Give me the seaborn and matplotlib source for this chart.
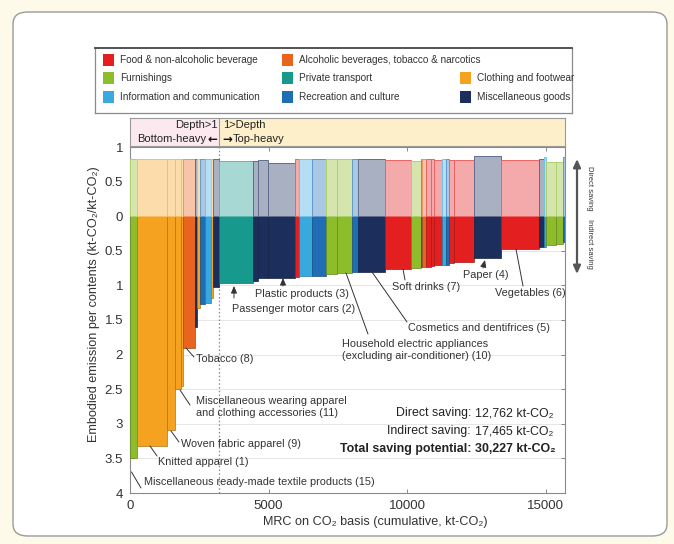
import matplotlib
matplotlib.use("Agg")
import matplotlib.pyplot as plt
from matplotlib.patches import FancyBboxPatch, Rectangle
import matplotlib.colors as mcolors
import numpy as np
import pandas as pd
import seaborn as sns

# ---------------- data ----------------
cat_keys = ["food", "alcohol", "furnish", "transport", "clothing", "info", "recreation", "misc"]
cat_labels = ["Food & non-alcoholic beverage", "Alcoholic beverages, tobacco & narcotics",
              "Furnishings", "Private transport", "Clothing and footwear",
              "Information and communication", "Recreation and culture", "Miscellaneous goods"]
cat_colors = ["#e3201f", "#e9641f", "#8dbd2a", "#17998e", "#f4a21f", "#38a9df", "#1f6db4", "#1c2f5c"]

bar_category = ["furnish", "clothing", "clothing", "clothing", "clothing", "alcohol", "misc", "clothing",
                "recreation", "info", "clothing", "misc", "transport", "misc", "misc", "misc", "food",
                "info", "recreation", "furnish", "furnish", "recreation", "misc", "food", "furnish",
                "recreation", "alcohol", "food", "food", "food", "info", "recreation", "food", "food",
                "misc", "food", "misc", "info", "furnish", "furnish", "recreation"]
bar_mrc = [240, 1110, 267, 238, 72, 412, 94, 97, 180, 217, 61, 227, 1238, 152, 379, 964, 155, 469,
           495, 397, 563, 206, 964, 939, 361, 58, 123, 180, 119, 300, 123, 119, 180, 722, 964, 1383,
           162, 72, 368, 264, 54]
bar_direct = [0.83, 0.83, 0.83, 0.83, 0.83, 0.83, 0.82, 0.82, 0.82, 0.83, 0.82, 0.82, 0.80, 0.80,
              0.81, 0.77, 0.83, 0.82, 0.82, 0.82, 0.82, 0.82, 0.82, 0.81, 0.80, 0.83, 0.82, 0.82,
              0.82, 0.81, 0.83, 0.82, 0.81, 0.81, 0.87, 0.81, 0.82, 0.85, 0.78, 0.78, 0.86]
bar_indirect = [3.50, 3.32, 3.09, 2.50, 2.45, 1.91, 1.60, 1.32, 1.27, 1.25, 1.18, 1.03, 0.97, 0.93,
                0.90, 0.89, 0.88, 0.87, 0.86, 0.83, 0.82, 0.81, 0.80, 0.77, 0.75, 0.74, 0.74, 0.73,
                0.72, 0.71, 0.70, 0.70, 0.68, 0.66, 0.61, 0.47, 0.45, 0.44, 0.42, 0.40, 0.38]

y_ticks = [1, 0.5, 0, -0.5, -1, -1.5, -2, -2.5, -3, -3.5, -4]
y_ticklabels = ["1", "0.5", "0", "0.5", "1", "1.5", "2", "2.5", "3", "3.5", "4"]
x_ticks = [0, 5000, 10000, 15000]
x_ticklabels = ["0", "5000", "10000", "15000"]

direct_total = "12,762"
indirect_total = "17,465"
grand_total = "30,227"

# ---------------- style ----------------
sns.set_theme(style="ticks")
FONT = ["Liberation Sans", "DejaVu Sans"]
plt.rcParams["font.family"] = FONT
plt.rcParams["axes.unicode_minus"] = False

df = pd.DataFrame({"cat": bar_category, "w": bar_mrc, "d": bar_direct, "i": bar_indirect})
df["left"] = df["w"].cumsum() - df["w"]
palette = dict(zip(cat_keys, sns.color_palette(cat_colors)))


def lighten(c, a=0.38):
    r, g, b = mcolors.to_rgb(c)
    return (r * a + 1 - a, g * a + 1 - a, b * a + 1 - a)


def darken(c, f=0.72):
    r, g, b = mcolors.to_rgb(c)
    return (r * f, g * f, b * f)


W, H = 674, 544
fig = plt.figure(figsize=(W / 100, H / 100), dpi=100)
fig.patch.set_facecolor("#fdfaea")
fig.add_artist(FancyBboxPatch((13 / W, 1 - 536 / H), 654 / W, 524 / H,
                              boxstyle="round,pad=0,rounding_size=0.022",
                              transform=fig.transFigure, facecolor="white",
                              edgecolor="#9a9a9a", lw=1.0, zorder=0))


def fx(px):
    return px / W


def fy(py):
    return 1 - py / H


XMAX = 15700
ax = fig.add_axes([fx(130), fy(493), fx(565) - fx(130), fy(147) - fy(493)])
ax.set_xlim(0, XMAX)
ax.set_ylim(-4, 1)


def P(xp, yp):
    return ((xp - 130) * XMAX / 435.0, 1 - (yp - 147) * 5 / 346.0)


# bars
cols = [palette[c] for c in df["cat"]]
ax.bar(df["left"], -df["i"], width=df["w"], align="edge", color=cols,
       edgecolor=[darken(c) for c in cols], linewidth=0.5, zorder=3)
ax.bar(df["left"], df["d"], width=df["w"], align="edge", color=[lighten(c) for c in cols],
       edgecolor=[lighten(c, 0.7) for c in cols], linewidth=0.7, zorder=3)

# depth boundary
boundary = df.loc[df["i"] < 1, "left"].iloc[0]
ax.axvline(boundary, ls=(0, (1.2, 1.8)), color="#8a8a8a", lw=0.9, zorder=2)

ax.set_yticks(y_ticks)
ax.set_yticklabels(y_ticklabels)
ax.set_xticks(x_ticks)
ax.set_xticklabels(x_ticklabels)
ax.grid(axis="y", color="#e6e6e6", lw=0.7, zorder=0)
ax.tick_params(direction="in", length=3, width=0.6, color="#777777", labelsize=9.5,
               labelcolor="#333333", top=True, right=True, pad=5)
for s in ax.spines.values():
    s.set_color("#8a8a8a")
    s.set_linewidth(0.8)

ax.set_xlabel("MRC on CO\u2082 basis (cumulative, kt-CO\u2082)", fontsize=9.1, color="#333333")
ax.xaxis.set_label_coords(0.563, -0.066)
ax.set_ylabel("Embodied emission per contents (kt-CO\u2082/kt-CO\u2082)", fontsize=9.1, color="#333333")
ax.yaxis.set_label_coords(-0.068, 0.545)

# annotations
ann_kw = dict(fontsize=7.8, color="#333333", va="center", ha="left", zorder=6)
line_kw = dict(color="#333333", lw=0.7, zorder=5, clip_on=False)


def label(text, tx, ty, lines=None, arrow=None):
    if lines:
        (x1, y1), (x2, y2) = P(*lines[0]), P(*lines[1])
        ax.plot([x1, x2], [y1, y2], **line_kw)
    if arrow:
        ax.annotate("", xy=P(*arrow[0]), xytext=P(*arrow[1]),
                    arrowprops=dict(arrowstyle="-|>,head_length=0.35,head_width=0.15",
                                    color="#333333", lw=0.7, shrinkA=0, shrinkB=0), zorder=5)
    ax.text(*P(tx, ty), text, **ann_kw)


label("Miscellaneous ready-made textile products (15)", 144, 482, lines=[(131.5, 472), (141, 488)])
label("Knitted apparel (1)", 158, 462, lines=[(150, 446), (157, 456)])
label("Woven fabric apparel (9)", 181, 444, lines=[(171, 431), (179, 442)])
label("Miscellaneous wearing apparel\nand clothing accessories (11)", 196, 407,
      lines=[(180, 390), (190, 405)])
label("Tobacco (8)", 196, 359, lines=[(186, 348), (194, 357)])
label("Passenger motor cars (2)", 232, 309, arrow=[(234, 286), (234, 298)])
label("Plastic products (3)", 255, 294, arrow=[(283, 278), (283, 286)])
label("Household electric appliances\n(excluding air-conditioner) (10)", 342, 350,
      lines=[(346, 273), (368, 334)])
label("Cosmetics and dentifrices (5)", 408, 328, lines=[(372, 272), (407, 322)])
label("Soft drinks (7)", 392, 287, lines=[(403, 269), (405, 280)])
label("Paper (4)", 463, 275, arrow=[(485, 260), (483, 268)])
label("Vegetables (6)", 495, 293, lines=[(516, 249), (523, 286)])

# totals
tk = dict(fontsize=8.9, color="#222222", va="center", zorder=6)
ax.text(*P(471, 413), "Direct saving:", ha="right", **tk)
ax.text(*P(475, 413), direct_total + " kt-CO\u2082", ha="left", **tk)
ax.text(*P(471, 431), "Indirect saving:", ha="right", **tk)
ax.text(*P(475, 431), indirect_total + " kt-CO\u2082", ha="left", **tk)
ax.text(*P(471, 449), "Total saving potential:", ha="right", fontweight="bold", **tk)
ax.text(*P(475, 449), grand_total + " kt-CO\u2082", ha="left", fontweight="bold", **tk)

# header band
axh = fig.add_axes([fx(130), fy(146), fx(565) - fx(130), fy(118) - fy(146)])
axh.set_xlim(0, XMAX)
axh.set_ylim(0, 1)
axh.add_patch(Rectangle((0, 0), boundary, 1, facecolor="#fbe9ef", edgecolor="none"))
axh.add_patch(Rectangle((boundary, 0), XMAX - boundary, 1, facecolor="#fdefc9", edgecolor="none"))
axh.axvline(boundary, color="#9a9a9a", lw=0.8)
axh.set_xticks([])
axh.set_yticks([])
for s in axh.spines.values():
    s.set_color("#9a9a9a")
    s.set_linewidth(0.8)
hk = dict(fontsize=8, color="#222222", va="center")
ak = dict(fontsize=8.5, color="#111111", va="center", fontweight="bold", family="DejaVu Sans")
off = 50
axh.text(boundary - off, 0.74, "Depth>1", ha="right", **hk)
axh.text(boundary - off, 0.25, "\u2190", ha="right", **ak)
axh.text(boundary - off - 420, 0.25, "Bottom-heavy", ha="right", **hk)
axh.text(boundary + 3 * off, 0.74, "1>Depth", ha="left", **hk)
axh.text(boundary + 2 * off, 0.25, "\u2192", ha="left", **ak)
axh.text(boundary + 2 * off + 400, 0.25, "Top-heavy", ha="left", **hk)

# legend box
axl = fig.add_axes([fx(95), fy(113), fx(572) - fx(95), fy(48) - fy(113)])
axl.set_xlim(0, 477)
axl.set_ylim(65, 0)
axl.set_xticks([])
axl.set_yticks([])
for s in axl.spines.values():
    s.set_color("#8a8a8a")
    s.set_linewidth(0.9)
axl.spines["top"].set_color("#444444")
axl.spines["top"].set_linewidth(1.3)
leg_pos = {"food": (0, 0), "alcohol": (1, 0), "furnish": (0, 1), "transport": (1, 1),
           "clothing": (2, 1), "info": (0, 2), "recreation": (1, 2), "misc": (2, 2)}
col_x = [8, 187, 365]
row_y = [12, 30, 49]
for key, lab in zip(cat_keys, cat_labels):
    c, r = leg_pos[key]
    axl.add_patch(Rectangle((col_x[c], row_y[r] - 6), 11, 12, facecolor=palette[key],
                            edgecolor="none"))
    axl.text(col_x[c] + 17, row_y[r], lab, fontsize=7.2, color="#333333", va="center", ha="left")

# right side arrow
ax.annotate("", xy=(fx(577), fy(159)), xytext=(fx(577), fy(274)), xycoords="figure fraction",
            textcoords="figure fraction",
            arrowprops=dict(arrowstyle="<|-|>,head_length=0.4,head_width=0.18", color="#555555",
                            lw=1.6, shrinkA=0, shrinkB=0))
fig.text(fx(589), fy(188), "Direct saving", rotation=-90, fontsize=5.5, color="#333333",
         ha="center", va="center")
fig.text(fx(589), fy(244), "Indirect saving", rotation=-90, fontsize=5.5, color="#333333",
         ha="center", va="center")

fig.savefig("out.png", dpi=100, facecolor=fig.get_facecolor())
